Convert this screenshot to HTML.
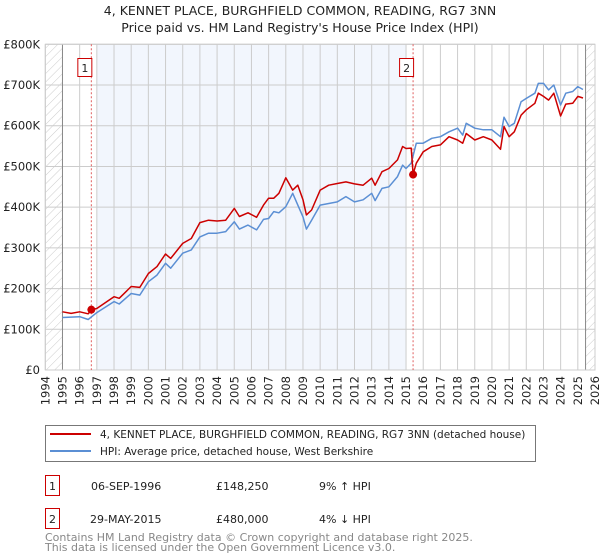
<!DOCTYPE html>
<html><head><meta charset="utf-8"><style>
body{margin:0;background:#fff;width:600px;height:560px;overflow:hidden;font-family:"DejaVu Sans","Liberation Sans",sans-serif}
svg{display:block}
</style></head><body>
<svg id="chart" width="600" height="560" font-family="DejaVu Sans, Liberation Sans, sans-serif">
<defs><pattern id="hatch" width="6" height="6" patternUnits="userSpaceOnUse" patternTransform="rotate(45)"><line x1="0" y1="0" x2="0" y2="6" stroke="#ccc" stroke-width="1"/></pattern></defs>
<text x="300" y="15" text-anchor="middle" font-size="12.5" fill="#222">4, KENNET PLACE, BURGHFIELD COMMON, READING, RG7 3NN</text>
<text x="300" y="32" text-anchor="middle" font-size="12.5" fill="#222">Price paid vs. HM Land Registry's House Price Index (HPI)</text>
<g id="plot"></g>
<rect x="45.5" y="425.5" width="490" height="36" fill="#fff" stroke="#777"/>
<line x1="50" y1="434" x2="91" y2="434" stroke="#cc0000" stroke-width="2"/>
<text x="100" y="438" font-size="10.5" fill="#222">4, KENNET PLACE, BURGHFIELD COMMON, READING, RG7 3NN (detached house)</text>
<line x1="50" y1="451" x2="91" y2="451" stroke="#5b8fd4" stroke-width="2"/>
<text x="100" y="455" font-size="10.5" fill="#222">HPI: Average price, detached house, West Berkshire</text>
<rect x="45.5" y="475.5" width="14" height="20" fill="#fff" stroke="#cc0000"/>
<text x="52.5" y="490" text-anchor="middle" font-size="11" fill="#222">1</text>
<text x="91" y="490" font-size="11" fill="#222">06-SEP-1996</text>
<text x="216" y="490" font-size="11" fill="#222">£148,250</text>
<text x="319" y="490" font-size="11" fill="#222">9% ↑ HPI</text>
<rect x="45.5" y="508.5" width="14" height="20" fill="#fff" stroke="#cc0000"/>
<text x="52.5" y="523" text-anchor="middle" font-size="11" fill="#222">2</text>
<text x="90" y="523" font-size="11" fill="#222">29-MAY-2015</text>
<text x="216" y="523" font-size="11" fill="#222">£480,000</text>
<text x="319" y="523" font-size="11" fill="#222">4% ↓ HPI</text>
<text x="45" y="541" font-size="11" fill="#888">Contains HM Land Registry data © Crown copyright and database right 2025.</text>
<text x="45" y="551" font-size="11" fill="#888">This data is licensed under the Open Government Licence v3.0.</text>
</svg>
<script>
const hpiYears=[1995,1996,1996.5,1997,1998,1998.3,1999,1999.5,2000,2000.5,2001,2001.3,2002,2002.5,2003,2003.5,2004,2004.5,2005,2005.3,2005.8,2006.3,2006.7,2007,2007.3,2007.6,2008,2008.4,2008.7,2009,2009.2,2009.5,2010,2010.5,2011,2011.5,2012,2012.5,2013,2013.2,2013.6,2014,2014.5,2014.8,2015,2015.3,2015.6,2016,2016.5,2017,2017.5,2018,2018.3,2018.5,2019,2019.5,2020,2020.5,2020.7,2021,2021.3,2021.7,2022,2022.5,2022.7,2023,2023.3,2023.6,2024,2024.3,2024.7,2025,2025.3];
const hpiValues=[129,131,124,141,168,162,188,184,217,233,262,250,287,295,327,336,336,340,364,346,356,344,370,372,389,386,401,434,405,376,346,368,405,409,413,426,413,418,434,416,446,450,475,503,495,508,557,557,569,573,585,594,577,606,594,590,590,573,621,598,606,659,667,680,704,704,688,700,651,680,684,696,689];
const priceYears=[1995,1995.5,1996,1996.5,1996.68,1997,1998,1998.3,1999,1999.5,2000,2000.5,2001,2001.3,2002,2002.5,2003,2003.5,2004,2004.5,2005,2005.3,2005.8,2006.3,2006.7,2007,2007.3,2007.6,2008,2008.4,2008.7,2009,2009.2,2009.5,2010,2010.5,2011,2011.5,2012,2012.5,2013,2013.2,2013.6,2014,2014.5,2014.8,2015,2015.3,2015.41,2015.6,2016,2016.5,2017,2017.5,2018,2018.3,2018.5,2019,2019.5,2020,2020.5,2020.7,2021,2021.3,2021.7,2022,2022.5,2022.7,2023,2023.3,2023.6,2024,2024.3,2024.7,2025,2025.3];
const priceValues=[143,139,143,138,148,151,180,176,205,203,237,254,285,274,311,323,362,368,366,368,397,377,386,375,405,422,422,434,472,442,454,418,381,393,442,454,458,462,457,454,471,454,487,495,516,549,544,545,481,508,536,549,553,573,565,557,581,565,573,565,542,598,573,585,626,639,655,680,672,663,680,624,653,655,672,668];
const saleYears=[1996.68,2015.41];
const saleValues=[148.25,480];
const saleLabels=["1","2"];
const yTicks=[0,100,200,300,400,500,600,700,800];
const yTickLabels=["£0","£100K","£200K","£300K","£400K","£500K","£600K","£700K","£800K"];
const xTicks=[1994,1995,1996,1997,1998,1999,2000,2001,2002,2003,2004,2005,2006,2007,2008,2009,2010,2011,2012,2013,2014,2015,2016,2017,2018,2019,2020,2021,2022,2023,2024,2025,2026];

const L=45.3,R=595,T=44.3,B=370;
const xs=y=>L+(y-1994)/(2026-1994)*(R-L);
const ys=v=>B-v/800*(B-T);
const NS="http://www.w3.org/2000/svg";
const g=document.getElementById('plot');
function mk(tag,attrs,parent){const e=document.createElementNS(NS,tag);for(const k in attrs)e.setAttribute(k,attrs[k]);(parent||g).appendChild(e);return e;}
let e;
e=mk('rect',{x:xs(1997),y:T,width:xs(2015)-xs(1997),height:B-T,fill:'#f2f6fd'});


e=mk('rect',{x:L,y:T,width:xs(1995)-L,height:B-T,fill:'url(#hatch)'});


e=mk('rect',{x:xs(2025.45),y:T,width:R-xs(2025.45),height:B-T,fill:'url(#hatch)'});


xTicks.forEach(t=>{
 e=mk('line',{x1:xs(t),x2:xs(t),y1:T,y2:B,stroke:'#ccc','stroke-width':1});
 
 
 e=mk('text',{x:0,y:0,'font-size':11.5,fill:'#222','text-anchor':'end',transform:`translate(${xs(t)+4},376) rotate(-90)`});
 e.textContent=t;
 
 
});
yTicks.forEach((t,i)=>{
 e=mk('line',{x1:L,x2:R,y1:ys(t),y2:ys(t),stroke:'#ccc','stroke-width':1});
 
 
 e=mk('text',{x:40,y:ys(t)+4,'font-size':11.5,fill:'#222','text-anchor':'end'});
 e.textContent=yTickLabels[i];
 
 
});
e=mk('line',{x1:xs(1995),x2:xs(1995),y1:T,y2:B,stroke:'#888'});


e=mk('line',{x1:xs(2025.45),x2:xs(2025.45),y1:T,y2:B,stroke:'#888'});


e=mk('rect',{x:L,y:T,width:R-L,height:B-T,fill:'none',stroke:'#ccc'});


saleYears.forEach((y,i)=>{
 e=mk('line',{x1:xs(y),x2:xs(y),y1:T,y2:B,stroke:'#e06060','stroke-dasharray':'2,2'});
 
 
});
function path(xa,va){return xa.map((x,i)=>(i?'L':'M')+xs(x).toFixed(1)+','+ys(va[i]).toFixed(1)).join('');}
e=mk('path',{d:path(hpiYears,hpiValues),fill:'none',stroke:'#5b8fd4','stroke-width':1.5,'stroke-linejoin':'round'});


e=mk('path',{d:path(priceYears,priceValues),fill:'none',stroke:'#cc0000','stroke-width':1.5,'stroke-linejoin':'round'});


saleYears.forEach((y,i)=>{
 e=mk('circle',{cx:xs(y),cy:ys(saleValues[i]),r:4,fill:'#cc0000'});
 
 
 const bx=xs(y)-13;
 e=mk('rect',{x:bx-0.5,y:58.5,width:14,height:18,fill:'#fff',stroke:'#cc0000'});
 
 
 e=mk('text',{x:bx+6.5,y:72,'font-size':11,fill:'#222','text-anchor':'middle'});
 e.textContent=saleLabels[i];
 
 
});
</script>
</body></html>
